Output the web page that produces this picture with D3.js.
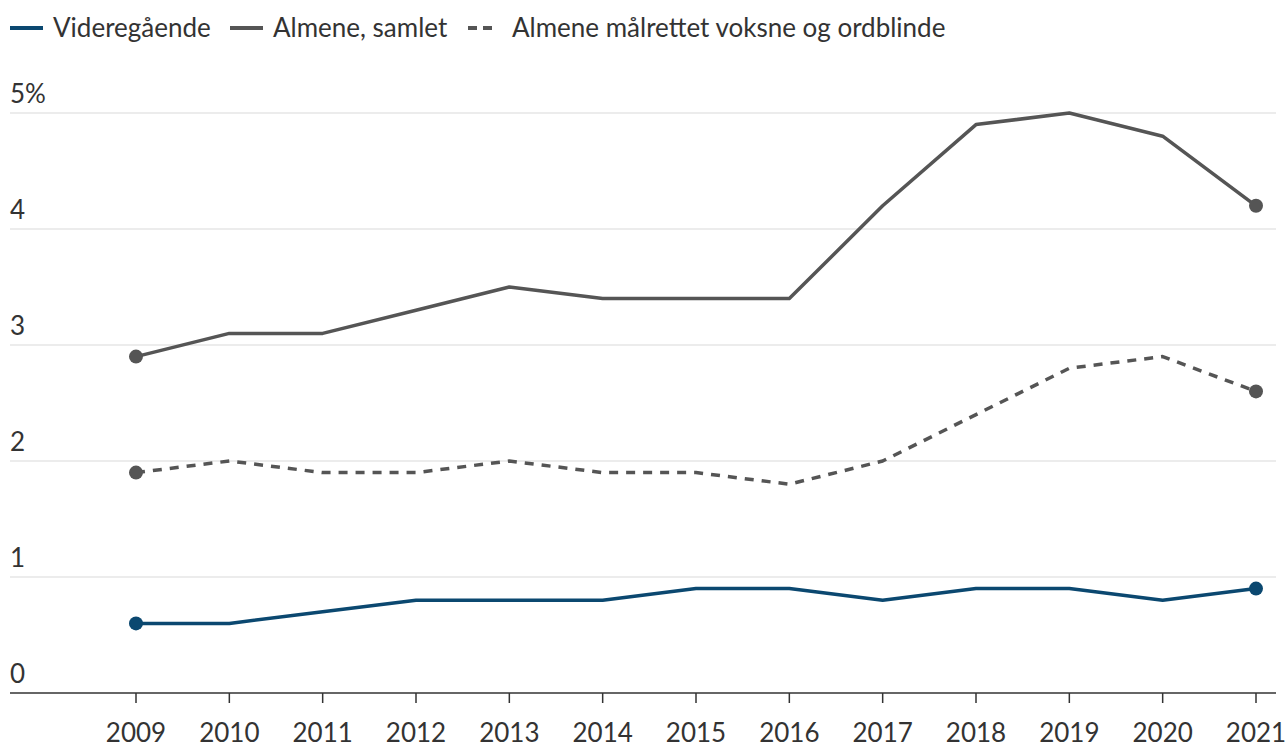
<!DOCTYPE html>
<meta charset="utf-8">
<style>
body { margin: 0; background: #fff; }
svg { font-family: Lato, "Open Sans", sans-serif; }
.grid line { stroke: #e6e6e6; stroke-width: 1.5px; }
.lbl { fill: #333; font-size: 26px; }
.line { fill: none; stroke-width: 3.5px; stroke-linejoin: round; }
</style>
<svg width="1287" height="747"></svg>
<script src="https://cdn.jsdelivr.net/npm/d3@7"></script>
<script>

var years = [2009, 2010, 2011, 2012, 2013, 2014, 2015, 2016, 2017, 2018, 2019, 2020, 2021];
var videregaende = [0.6, 0.6, 0.7, 0.8, 0.8, 0.8, 0.9, 0.9, 0.8, 0.9, 0.9, 0.8, 0.9];
var almeneSamlet = [2.9, 3.1, 3.1, 3.3, 3.5, 3.4, 3.4, 3.4, 4.2, 4.9, 5.0, 4.8, 4.2];
var almeneMalrettet = [1.9, 2.0, 1.9, 1.9, 2.0, 1.9, 1.9, 1.8, 2.0, 2.4, 2.8, 2.9, 2.6];
var yTicks = [0, 1, 2, 3, 4, 5];

var series = [
    {name: "Videregående", values: videregaende, color: "#0b4870", dash: null},
    {name: "Almene, samlet", values: almeneSamlet, color: "#555555", dash: null},
    {name: "Almene målrettet voksne og ordblinde", values: almeneMalrettet, color: "#555555", dash: "9,8"}
];

var svg = d3.select("svg");

var x = d3.scaleLinear()
    .domain([2009, 2021])
    .range([136, 1256]);

var y = d3.scaleLinear()
    .domain([0, 5])
    .range([693, 113]);

var left = 10, right = 1276;

// gridlines + y labels
var grid = svg.append("g").attr("class", "grid");
grid.selectAll("line")
    .data(yTicks.filter(function(d) { return d > 0; }))
    .enter().append("line")
    .attr("x1", left).attr("x2", right)
    .attr("y1", function(d) { return y(d); })
    .attr("y2", function(d) { return y(d); });

svg.append("g").selectAll("text")
    .data(yTicks)
    .enter().append("text")
    .attr("class", "lbl")
    .attr("x", left)
    .attr("y", function(d) { return y(d) - 10; })
    .text(function(d) { return d === 5 ? d + "%" : d; });

// x axis
var xAxis = svg.append("g")
    .attr("transform", "translate(0," + y(0) + ")");
xAxis.append("line")
    .attr("x1", left).attr("x2", right)
    .attr("stroke", "#333").attr("stroke-width", 1.5);
xAxis.selectAll(".tick")
    .data(years)
    .enter().append("line")
    .attr("x1", function(d) { return x(d); })
    .attr("x2", function(d) { return x(d); })
    .attr("y1", 0).attr("y2", 10)
    .attr("stroke", "#333").attr("stroke-width", 1.5);
xAxis.selectAll("text")
    .data(years)
    .enter().append("text")
    .attr("class", "lbl")
    .attr("x", function(d) { return x(d); })
    .attr("y", 49)
    .attr("text-anchor", "middle")
    .text(function(d) { return d; });

var line = d3.line()
    .x(function(d, i) { return x(years[i]); })
    .y(function(d) { return y(d); });

// draw from back to front
[2, 1, 0].forEach(function(k) {
    var s = series[k];
    svg.append("path")
        .datum(s.values)
        .attr("class", "line")
        .attr("stroke", s.color)
        .attr("stroke-dasharray", s.dash)
        .attr("d", line);
    var last = s.values.length - 1;
    svg.append("g").selectAll("circle")
        .data([0, last])
        .enter().append("circle")
        .attr("cx", function(i) { return x(years[i]); })
        .attr("cy", function(i) { return y(s.values[i]); })
        .attr("r", 7)
        .attr("fill", s.color);
});

// legend
var legendX = [10, 230, 468];
var legend = svg.append("g");
series.forEach(function(s, i) {
    var g = legend.append("g").attr("transform", "translate(" + legendX[i] + ",28)");
    g.append("line")
        .attr("x1", 0).attr("x2", s.dash ? 30 : 33)
        .attr("stroke", s.color)
        .attr("stroke-width", 4)
        .attr("stroke-dasharray", s.dash ? "9,6" : null);
    g.append("text")
        .attr("class", "lbl")
        .attr("x", s.dash ? 44 : 43)
        .attr("y", 9)
        .text(s.name);
});

</script>
